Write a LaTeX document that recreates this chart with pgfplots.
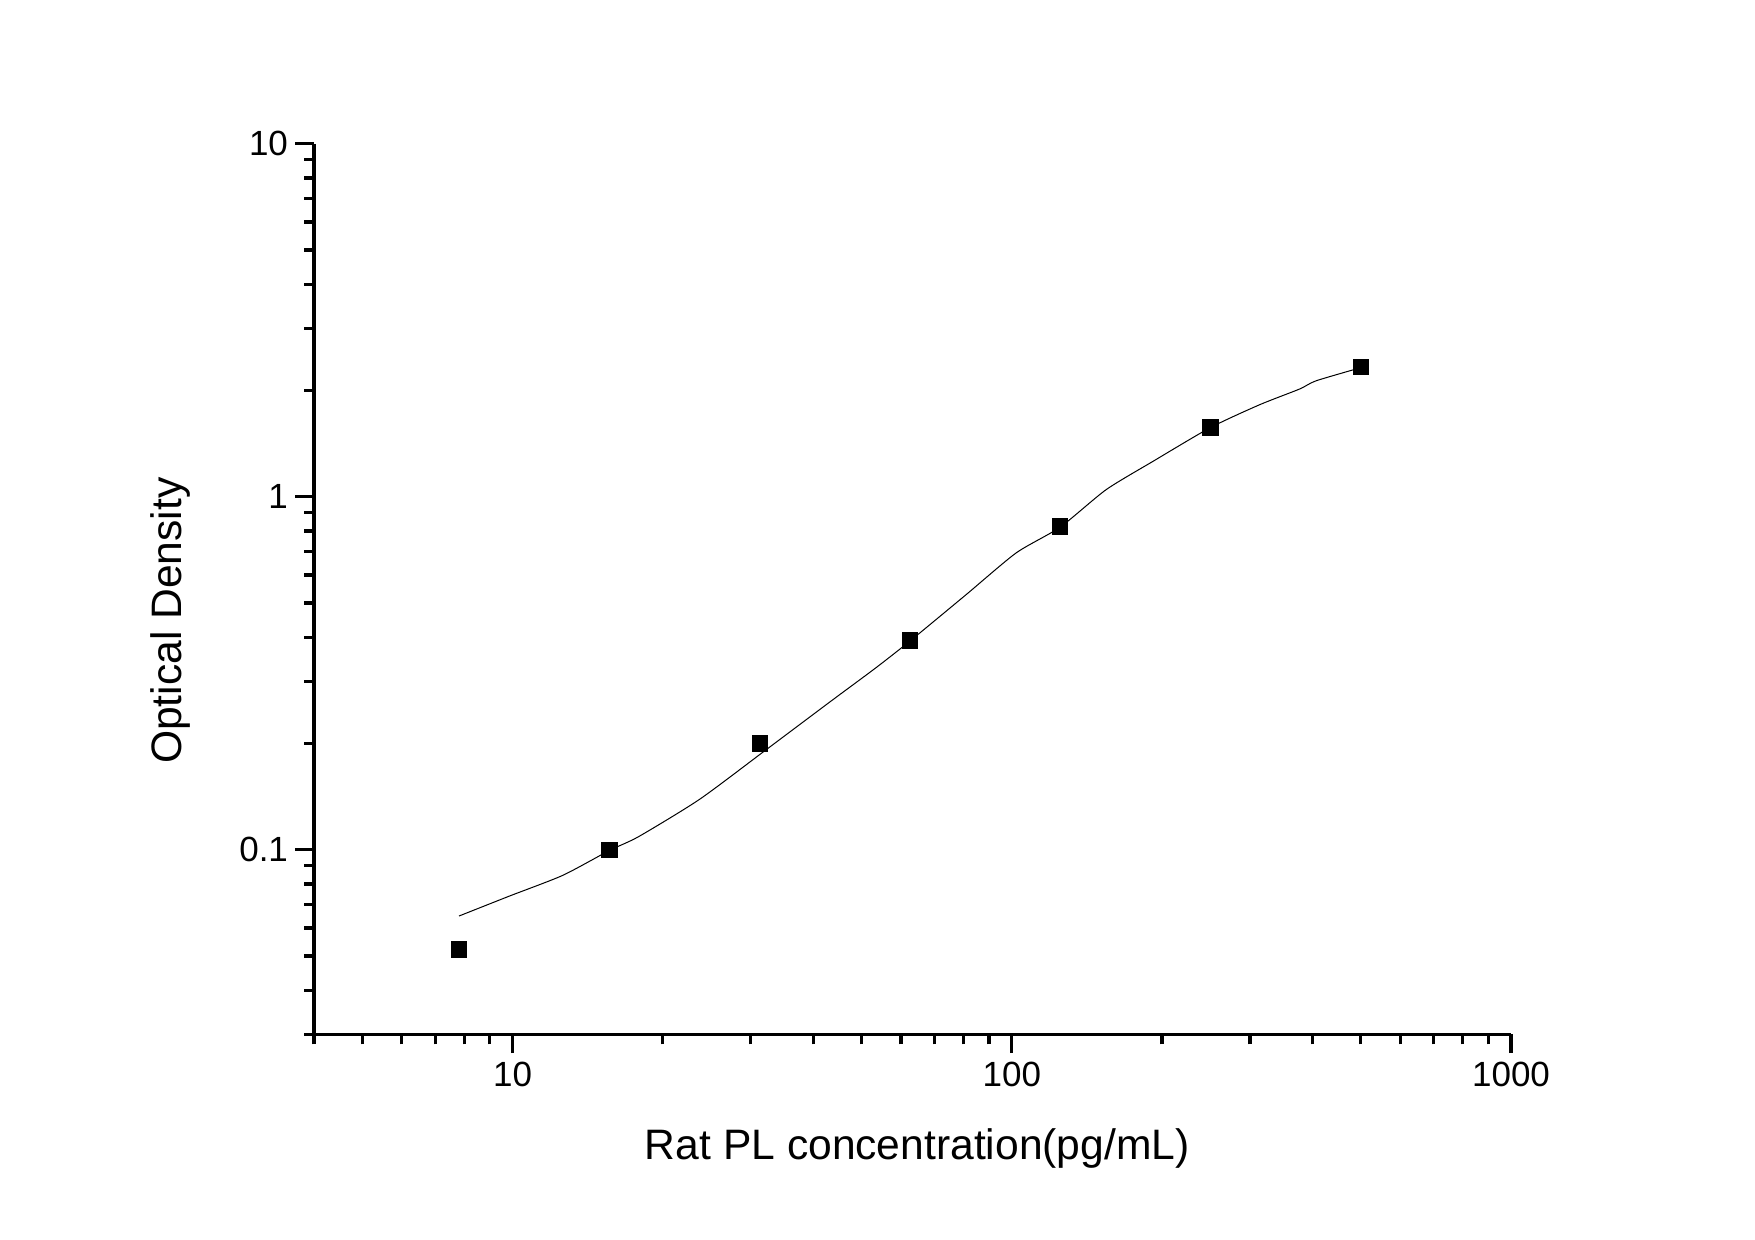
\documentclass[border=0pt]{standalone}
\usepackage{pgfplots}
\pgfplotsset{compat=1.18}
\usepackage{fontspec}
\setmainfont{Liberation Sans}

\begin{document}
\begin{tikzpicture}
\begin{axis}[
    scale only axis,
    width=598.5pt,
    height=445.3pt,
    xmode=log, ymode=log,
    xmin=4, xmax=1000,
    ymin=0.03, ymax=10,
    axis lines=left,
    axis line style={-, line width=1.6pt},
    tick style={line width=1.6pt, black},
    tick align=outside,
    major tick length=9.5pt,
    minor tick length=5pt,
    xtick={10,100,1000},
    xticklabels={10,100,1000},
    minor xtick={4,5,6,7,8,9,20,30,40,50,60,70,80,90,200,300,400,500,600,700,800,900},
    ytick={0.1,1,10},
    yticklabels={0.1,1,10},
    minor ytick={0.03,0.04,0.05,0.06,0.07,0.08,0.09,0.2,0.3,0.4,0.5,0.6,0.7,0.8,0.9,2,3,4,5,6,7,8,9},
    ticklabel style={font=\fontsize{17.5}{20}\selectfont},
    xticklabel style={yshift=-1pt},
    xlabel={Rat PL concentration(pg/mL)},
    ylabel={Optical Density},
    label style={font=\fontsize{21.3}{25}\selectfont},
    xlabel style={at={(rel axis cs:0.504,-0.1411)}, anchor=base},
    ylabel style={at={(rel axis cs:-0.1105,0.4645)}, anchor=base, rotate=0},
    clip=false,
]
% fitted curve
\addplot[black, line width=0.5pt, no marks, smooth, tension=0.4] coordinates {
    (7.8125,0.0649) (9.85,0.0739) (12.6,0.0846) (15.625,0.0995)
    (17.9,0.109) (23.7,0.139) (32.2,0.192) (43.8,0.266)
    (53.4,0.3275) (62.5,0.39) (81,0.528) (102,0.693)
    (125,0.82) (154.5,1.047) (191.7,1.259) (250,1.57)
    (313.6,1.822) (377,2.018) (407,2.13) (500,2.32)
};
% standards
\addplot[only marks, mark=square*, mark size=3.8pt, black] coordinates {
    (7.8125,0.0522) (15.625,0.1) (31.25,0.2) (62.5,0.392)
    (125,0.824) (250,1.571) (500,2.338)
};
\end{axis}
\path (-157pt,-102.85pt) rectangle (720.5pt,517.15pt);
\end{tikzpicture}
\end{document}
